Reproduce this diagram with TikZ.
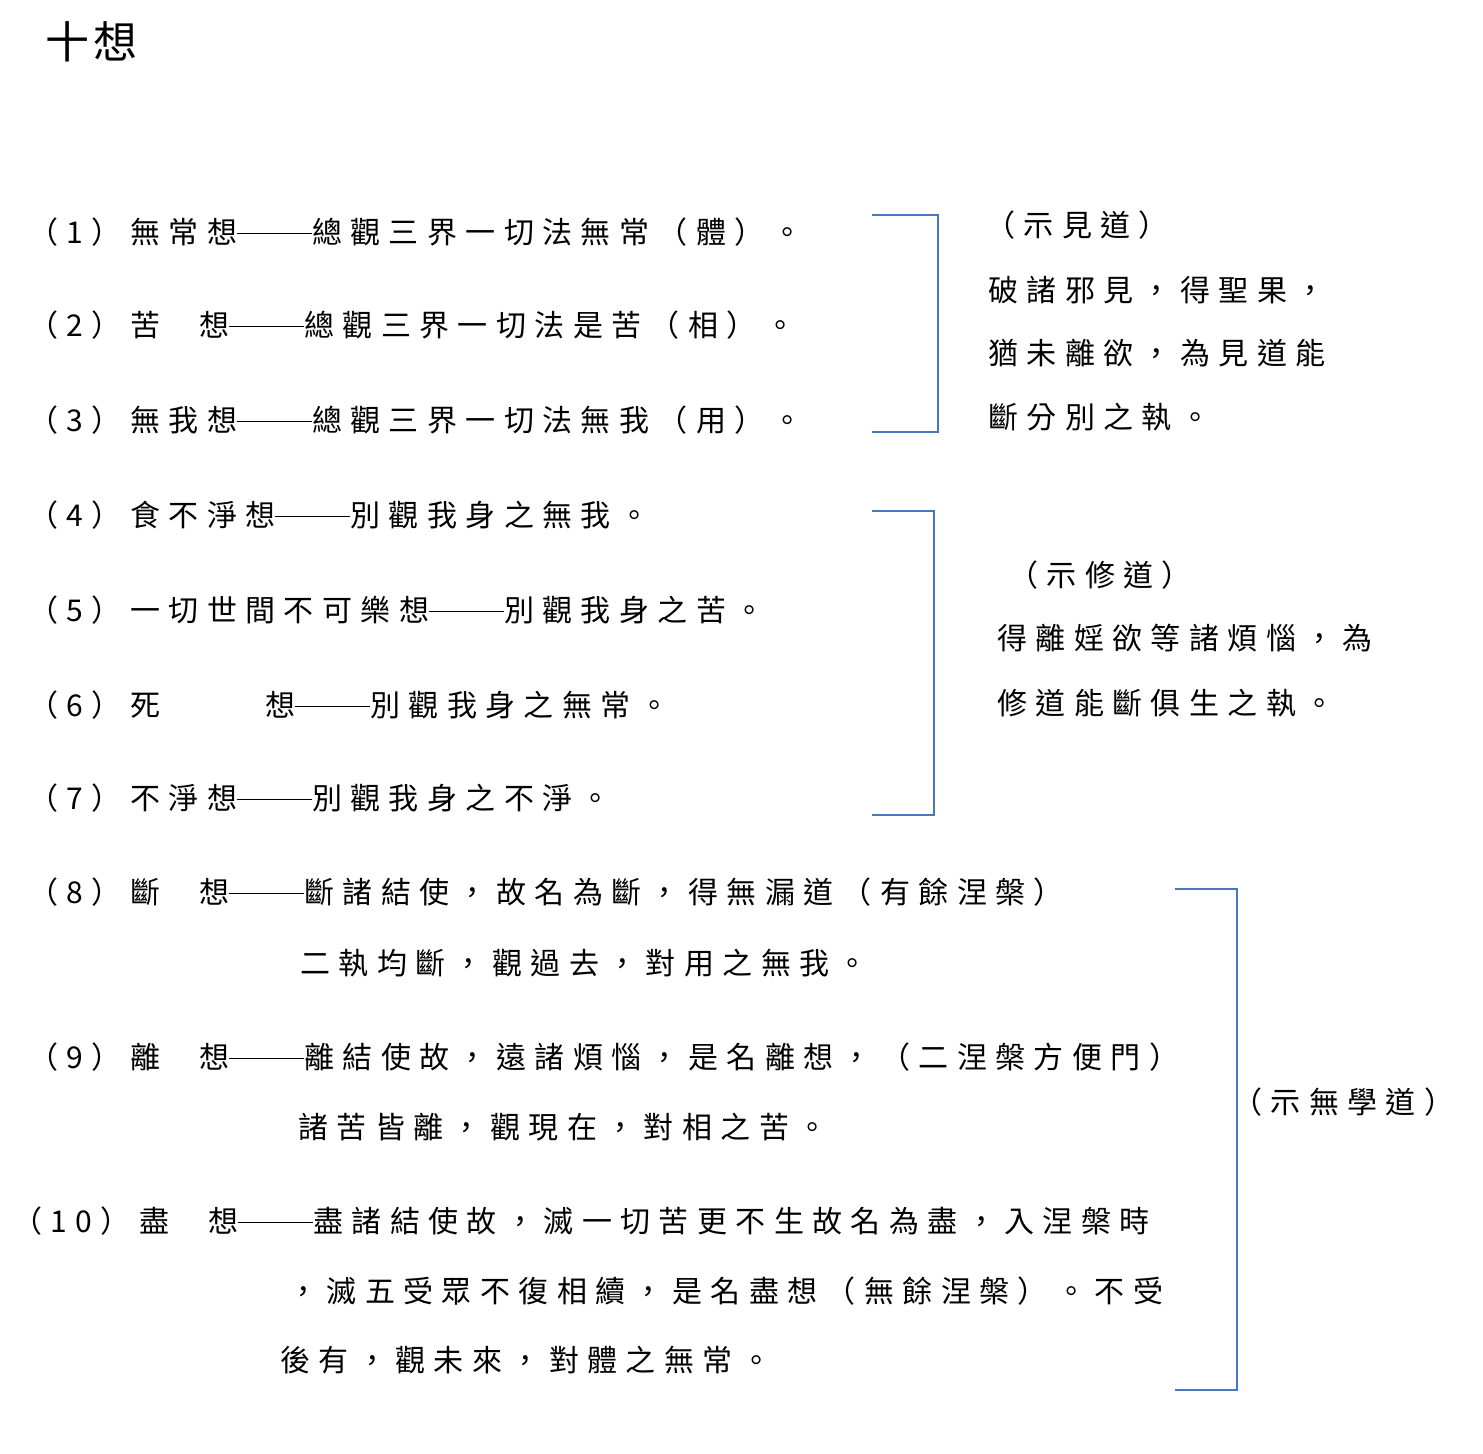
\documentclass[tikz,border=0pt]{standalone}
\usepackage{fontspec}
\setmainfont{Noto Sans CJK TC}[LetterSpace=28]
\newfontfamily\titlefont{Noto Sans CJK TC}[LetterSpace=10]
\usetikzlibrary{positioning}
\definecolor{brk}{HTML}{4A76C0}
\newcommand{\longdash}{\rule[0.33em]{2.5em}{0.5pt}}
\begin{document}
\begin{tikzpicture}[x=0.5pt,y=-0.5pt,
  line/.style={anchor=west,inner sep=0pt,font=\fontsize{15pt}{17pt}\selectfont},
  bracket/.style={draw=brk,line width=0.9pt}]
\useasboundingbox (0,0) rectangle (1483,1453);

% title
\node [anchor=west,inner sep=0pt,font=\titlefont\fontsize{22pt}{24pt}\selectfont] (title) at (45,42) {十想};

% the ten items
\node [line] (l1) at (28,232) {（1）無常想\longdash 總觀三界一切法無常（體）。};
\node [line] (l2) at (28,325) {（2）苦\hspace{1.3em}想\longdash 總觀三界一切法是苦（相）。};
\node [line] (l3) at (28,420) {（3）無我想\longdash 總觀三界一切法無我（用）。};
\node [line] (l4) at (28,515) {（4）食不淨想\longdash 別觀我身之無我。};
\node [line] (l5) at (28,610) {（5）一切世間不可樂想\longdash 別觀我身之苦。};
\node [line] (l6) at (28,705) {（6）死\hspace{3.5em}想\longdash 別觀我身之無常。};
\node [line] (l7) at (28,798) {（7）不淨想\longdash 別觀我身之不淨。};
\node [line] (l8) at (28,892) {（8）斷\hspace{1.3em}想\longdash 斷諸結使，故名為斷，得無漏道（有餘涅槃）};
\node [line] (l8b) at (300,963) {二執均斷，觀過去，對用之無我。};
\node [line] (l9) at (28,1057) {（9）離\hspace{1.3em}想\longdash 離結使故，遠諸煩惱，是名離想，（二涅槃方便門）};
\node [line] (l9b) at (298,1127) {諸苦皆離，觀現在，對相之苦。};
\node [line] (l10) at (12,1221) {（10）盡\hspace{1.3em}想\longdash 盡諸結使故，滅一切苦更不生故名為盡，入涅槃時};
\node [line] (l10b) at (288,1291) {，滅五受眾不復相續，是名盡想（無餘涅槃）。不受};
\node [line] (l10c) at (280,1360) {後有，觀未來，對體之無常。};

% brackets
\coordinate (a1) at (872,215); \coordinate (a2) at (938,215);
\coordinate (a3) at (938,432); \coordinate (a4) at (872,432);
\draw [bracket] (a1) -- (a2) -- (a3) -- (a4);
\coordinate (b1) at (872,511); \coordinate (b2) at (934,511);
\coordinate (b3) at (934,815); \coordinate (b4) at (872,815);
\draw [bracket] (b1) -- (b2) -- (b3) -- (b4);
\coordinate (c1) at (1175,889); \coordinate (c2) at (1237,889);
\coordinate (c3) at (1237,1390); \coordinate (c4) at (1175,1390);
\draw [bracket] (c1) -- (c2) -- (c3) -- (c4);

% right notes
\node [line] (r1) at (985,225) {（示見道）};
\node [line] (r2) at (988,290) {破諸邪見，得聖果，};
\node [line] (r3) at (988,353) {猶未離欲，為見道能};
\node [line] (r4) at (988,417) {斷分別之執。};
\node [line] (s1) at (1008,575) {（示修道）};
\node [line] (s2) at (997,638) {得離婬欲等諸煩惱，為};
\node [line] (s3) at (997,703) {修道能斷俱生之執。};
\node [line] (t1) at (1232,1102) {（示無學道）};
\end{tikzpicture}
\end{document}
